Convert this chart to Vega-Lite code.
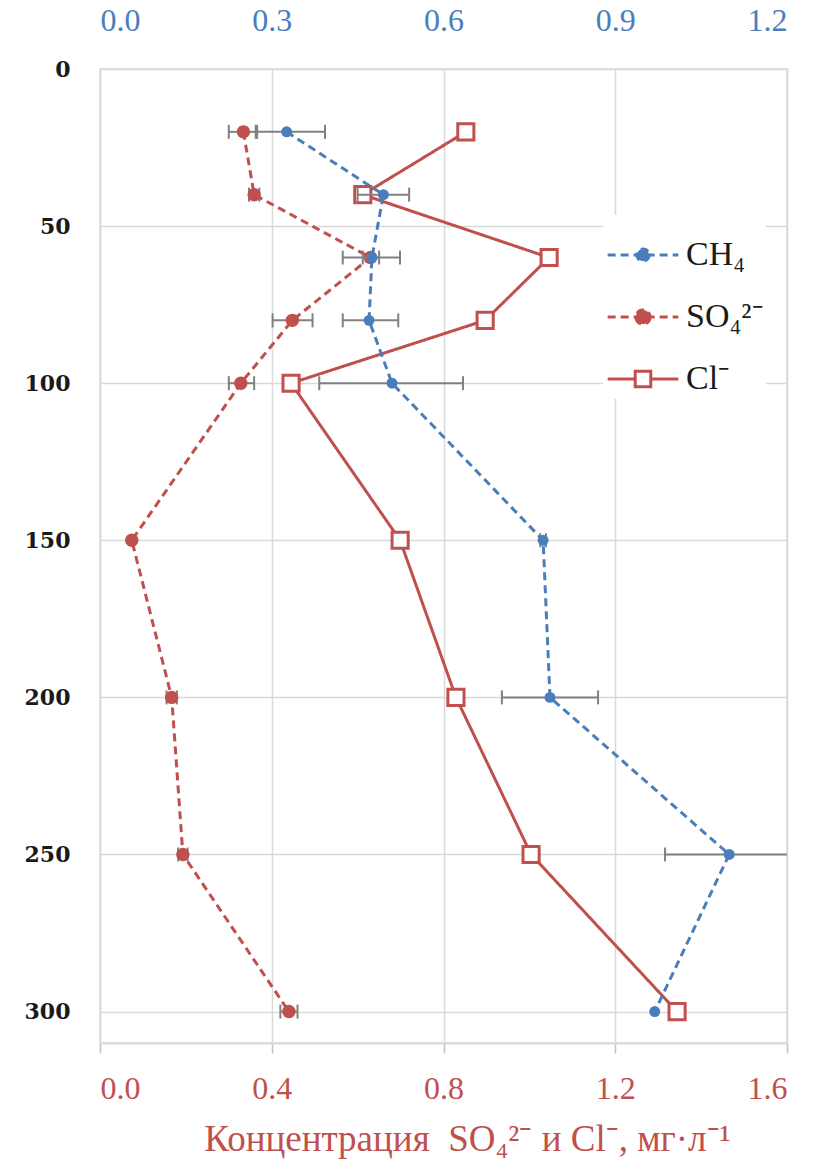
{
  "$schema": "https://vega.github.io/schema/vega-lite/v6.json",
  "width": 687,
  "height": 974,
  "autosize": {"type": "none"},
  "padding": {"left": 100, "top": 69, "right": 26, "bottom": 121},
  "background": "white",
  "config": {
    "view": {"stroke": "#d9d9d9", "strokeWidth": 1.5},
    "font": "Liberation Serif",
    "legend": {
      "title": null,
      "orient": "none",
      "legendX": 503,
      "legendY": 146,
      "padding": 3,
      "fillColor": "white",
      "symbolType": "stroke",
      "symbolSize": 5000,
      "symbolStrokeWidth": 3,
      "labelFont": "Liberation Serif",
      "labelFontSize": 34,
      "labelColor": "#1a1a1a",
      "labelOffset": 6,
      "rowPadding": 8
    }
  },
  "datasets": {
    "pts": [
      {"series": "CH₄", "depth": 20, "value": 0.326},
      {"series": "CH₄", "depth": 40, "value": 0.495},
      {"series": "CH₄", "depth": 60, "value": 0.475},
      {"series": "CH₄", "depth": 80, "value": 0.470},
      {"series": "CH₄", "depth": 100, "value": 0.510},
      {"series": "CH₄", "depth": 150, "value": 0.774},
      {"series": "CH₄", "depth": 200, "value": 0.786},
      {"series": "CH₄", "depth": 250, "value": 1.099},
      {"series": "CH₄", "depth": 300, "value": 0.969},
      {"series": "SO₄²⁻", "depth": 20, "value": 0.334},
      {"series": "SO₄²⁻", "depth": 40, "value": 0.359},
      {"series": "SO₄²⁻", "depth": 60, "value": 0.630},
      {"series": "SO₄²⁻", "depth": 80, "value": 0.448},
      {"series": "SO₄²⁻", "depth": 100, "value": 0.328},
      {"series": "SO₄²⁻", "depth": 150, "value": 0.074},
      {"series": "SO₄²⁻", "depth": 200, "value": 0.167},
      {"series": "SO₄²⁻", "depth": 250, "value": 0.193},
      {"series": "SO₄²⁻", "depth": 300, "value": 0.440},
      {"series": "Cl⁻", "depth": 20, "value": 0.852},
      {"series": "Cl⁻", "depth": 40, "value": 0.612},
      {"series": "Cl⁻", "depth": 60, "value": 1.046},
      {"series": "Cl⁻", "depth": 80, "value": 0.897},
      {"series": "Cl⁻", "depth": 100, "value": 0.445},
      {"series": "Cl⁻", "depth": 150, "value": 0.699},
      {"series": "Cl⁻", "depth": 200, "value": 0.829},
      {"series": "Cl⁻", "depth": 250, "value": 1.004},
      {"series": "Cl⁻", "depth": 300, "value": 1.344}
    ],
    "err": [
      {"series": "CH₄", "depth": 20, "lo": 0.272, "hi": 0.393},
      {"series": "CH₄", "depth": 40, "lo": 0.450, "hi": 0.540},
      {"series": "CH₄", "depth": 60, "lo": 0.424, "hi": 0.524},
      {"series": "CH₄", "depth": 80, "lo": 0.424, "hi": 0.521},
      {"series": "CH₄", "depth": 100, "lo": 0.383, "hi": 0.634},
      {"series": "CH₄", "depth": 150, "lo": 0.769, "hi": 0.779},
      {"series": "CH₄", "depth": 200, "lo": 0.702, "hi": 0.870},
      {"series": "CH₄", "depth": 250, "lo": 0.987, "hi": 1.211},
      {"series": "SO₄²⁻", "depth": 20, "lo": 0.300, "hi": 0.366},
      {"series": "SO₄²⁻", "depth": 40, "lo": 0.347, "hi": 0.371},
      {"series": "SO₄²⁻", "depth": 60, "lo": 0.612, "hi": 0.650},
      {"series": "SO₄²⁻", "depth": 80, "lo": 0.402, "hi": 0.495},
      {"series": "SO₄²⁻", "depth": 100, "lo": 0.300, "hi": 0.359},
      {"series": "SO₄²⁻", "depth": 200, "lo": 0.155, "hi": 0.179},
      {"series": "SO₄²⁻", "depth": 250, "lo": 0.182, "hi": 0.204},
      {"series": "SO₄²⁻", "depth": 300, "lo": 0.420, "hi": 0.460}
    ]
  },
  "encoding": {
    "y": {
      "field": "depth",
      "type": "quantitative",
      "scale": {"domain": [0, 310], "reverse": true, "nice": false, "zero": false},
      "axis": {
        "title": null,
        "values": [0, 50, 100, 150, 200, 250, 300],
        "labelFont": "DejaVu Serif",
        "labelFontWeight": "bold",
        "labelFontSize": 22,
        "labelColor": "#1a1a1a",
        "labelPadding": 30,
        "ticks": false,
        "domain": true,
        "domainColor": "#d9d9d9",
        "domainWidth": 1.5,
        "grid": true,
        "gridColor": "#d9d9d9",
        "gridWidth": 1.5
      }
    }
  },
  "layer": [
    {
      "layer": [
        {
          "data": {"name": "pts"},
          "transform": [{"filter": "datum.series !== 'CH₄'"}],
          "mark": {"type": "line", "strokeWidth": 3},
          "encoding": {
            "x": {
              "field": "value",
              "type": "quantitative",
              "scale": {"domain": [0, 1.6], "nice": false},
              "axis": {
                "orient": "bottom",
                "values": [0, 0.4, 0.8, 1.2, 1.6],
                "format": ".1f",
                "title": "Концентрация\u00a0 SO₄²⁻ и Cl⁻, мг·л⁻¹",
                "titleFont": "Liberation Serif",
                "titleFontSize": 37,
                "titleFontWeight": "normal",
                "titleColor": "#c0504d",
                "titleX": 367,
                "titleY": 107,
                "titleBaseline": "alphabetic",
                "labelFont": "Liberation Serif",
                "labelFontSize": 32,
                "labelColor": "#c0504d",
                "labelPadding": 20,
                "ticks": true,
                "tickSize": 10,
                "tickColor": "#bfbfbf",
                "tickWidth": 1.5,
                "domain": true,
                "domainColor": "#d9d9d9",
                "domainWidth": 2,
                "grid": true,
                "gridColor": "#d9d9d9",
                "gridWidth": 1.5
              }
            },
            "color": {
              "field": "series",
              "type": "nominal",
              "scale": {"domain": ["CH₄", "SO₄²⁻", "Cl⁻"], "range": ["#4a7ebb", "#c0504d", "#c0504d"]},
              "legend": {
                "encode": {
                  "symbols": {
                    "update": {
                      "shape": {"signal": "datum.value === 'Cl⁻' ? 'M-1,0L-0.22,0M0.22,0L1,0M-0.22,-0.22L0.22,-0.22L0.22,0.22L-0.22,0.22Z' : (datum.value === 'CH₄' ? 'M-1,0L1,0M0.17,0A0.17,0.17 0 1,1 -0.17,0A0.17,0.17 0 1,1 0.17,0Z' : 'M-1,0L1,0M0.2,0A0.2,0.2 0 1,1 -0.2,0A0.2,0.2 0 1,1 0.2,0Z')"},
                      "fill": {"signal": "datum.value === 'Cl⁻' ? 'white' : (datum.value === 'CH₄' ? '#4a7ebb' : '#c0504d')"},
                      "fillOpacity": {"value": 1}
                    }
                  }
                }
              }
            },
            "strokeDash": {
              "field": "series",
              "type": "nominal",
              "scale": {"domain": ["CH₄", "SO₄²⁻", "Cl⁻"], "range": [[8, 5], [8, 5], [1, 0]]},
              "legend": {
                "encode": {
                  "symbols": {
                    "update": {
                      "shape": {"signal": "datum.value === 'Cl⁻' ? 'M-1,0L-0.22,0M0.22,0L1,0M-0.22,-0.22L0.22,-0.22L0.22,0.22L-0.22,0.22Z' : (datum.value === 'CH₄' ? 'M-1,0L1,0M0.17,0A0.17,0.17 0 1,1 -0.17,0A0.17,0.17 0 1,1 0.17,0Z' : 'M-1,0L1,0M0.2,0A0.2,0.2 0 1,1 -0.2,0A0.2,0.2 0 1,1 0.2,0Z')"},
                      "fill": {"signal": "datum.value === 'Cl⁻' ? 'white' : (datum.value === 'CH₄' ? '#4a7ebb' : '#c0504d')"},
                      "fillOpacity": {"value": 1}
                    }
                  }
                }
              }
            },
            "order": {"field": "depth", "type": "quantitative"}
          }
        },
        {
          "data": {"name": "err"},
          "transform": [{"filter": "datum.series === 'SO₄²⁻'"}],
          "mark": {"type": "rule", "color": "#808080", "strokeWidth": 2, "clip": true},
          "encoding": {
            "x": {"field": "lo", "type": "quantitative", "scale": {"domain": [0, 1.6], "nice": false}},
            "x2": {"field": "hi"}
          }
        },
        {
          "data": {"name": "err"},
          "transform": [{"filter": "datum.series === 'SO₄²⁻'"}],
          "mark": {"type": "point", "shape": "M0,-1L0,1", "size": 196, "stroke": "#808080", "strokeWidth": 2, "filled": false, "opacity": 1, "clip": true},
          "encoding": {
            "x": {"field": "lo", "type": "quantitative", "scale": {"domain": [0, 1.6], "nice": false}}
          }
        },
        {
          "data": {"name": "err"},
          "transform": [{"filter": "datum.series === 'SO₄²⁻'"}],
          "mark": {"type": "point", "shape": "M0,-1L0,1", "size": 196, "stroke": "#808080", "strokeWidth": 2, "filled": false, "opacity": 1, "clip": true},
          "encoding": {
            "x": {"field": "hi", "type": "quantitative", "scale": {"domain": [0, 1.6], "nice": false}}
          }
        },
        {
          "data": {"name": "pts"},
          "transform": [{"filter": "datum.series === 'SO₄²⁻'"}],
          "mark": {"type": "point", "shape": "circle", "filled": true, "size": 180, "color": "#c0504d", "opacity": 1},
          "encoding": {
            "x": {"field": "value", "type": "quantitative", "scale": {"domain": [0, 1.6], "nice": false}}
          }
        },
        {
          "data": {"name": "pts"},
          "transform": [{"filter": "datum.series === 'Cl⁻'"}],
          "mark": {"type": "point", "shape": "square", "filled": true, "fill": "white", "stroke": "#c0504d", "strokeWidth": 3, "size": 260, "opacity": 1},
          "encoding": {
            "x": {"field": "value", "type": "quantitative", "scale": {"domain": [0, 1.6], "nice": false}}
          }
        }
      ]
    },
    {
      "layer": [
        {
          "data": {"name": "pts"},
          "transform": [{"filter": "datum.series === 'CH₄'"}],
          "mark": {"type": "line", "strokeWidth": 3},
          "encoding": {
            "x": {
              "field": "value",
              "type": "quantitative",
              "scale": {"domain": [0, 1.2], "nice": false},
              "axis": {
                "orient": "top",
                "values": [0, 0.3, 0.6, 0.9, 1.2],
                "format": ".1f",
                "title": null,
                "labelFont": "Liberation Serif",
                "labelFontSize": 32,
                "labelColor": "#4a7ebb",
                "labelPadding": 32,
                "ticks": false,
                "domain": false,
                "grid": false
              }
            },
            "color": {
              "field": "series",
              "type": "nominal",
              "scale": {"domain": ["CH₄", "SO₄²⁻", "Cl⁻"], "range": ["#4a7ebb", "#c0504d", "#c0504d"]}
            },
            "strokeDash": {
              "field": "series",
              "type": "nominal",
              "scale": {"domain": ["CH₄", "SO₄²⁻", "Cl⁻"], "range": [[8, 5], [8, 5], [1, 0]]}
            },
            "order": {"field": "depth", "type": "quantitative"}
          }
        },
        {
          "data": {"name": "err"},
          "transform": [{"filter": "datum.series === 'CH₄'"}],
          "mark": {"type": "rule", "color": "#808080", "strokeWidth": 2, "clip": true},
          "encoding": {
            "x": {"field": "lo", "type": "quantitative", "scale": {"domain": [0, 1.2], "nice": false}},
            "x2": {"field": "hi"}
          }
        },
        {
          "data": {"name": "err"},
          "transform": [{"filter": "datum.series === 'CH₄'"}],
          "mark": {"type": "point", "shape": "M0,-1L0,1", "size": 196, "stroke": "#808080", "strokeWidth": 2, "filled": false, "opacity": 1, "clip": true},
          "encoding": {
            "x": {"field": "lo", "type": "quantitative", "scale": {"domain": [0, 1.2], "nice": false}}
          }
        },
        {
          "data": {"name": "err"},
          "transform": [{"filter": "datum.series === 'CH₄'"}],
          "mark": {"type": "point", "shape": "M0,-1L0,1", "size": 196, "stroke": "#808080", "strokeWidth": 2, "filled": false, "opacity": 1, "clip": true},
          "encoding": {
            "x": {"field": "hi", "type": "quantitative", "scale": {"domain": [0, 1.2], "nice": false}}
          }
        },
        {
          "data": {"name": "pts"},
          "transform": [{"filter": "datum.series === 'CH₄'"}],
          "mark": {"type": "point", "shape": "circle", "filled": true, "size": 120, "color": "#4a7ebb", "opacity": 1},
          "encoding": {
            "x": {"field": "value", "type": "quantitative", "scale": {"domain": [0, 1.2], "nice": false}}
          }
        }
      ]
    }
  ],
  "resolve": {"scale": {"x": "independent"}, "axis": {"x": "independent"}}
}
